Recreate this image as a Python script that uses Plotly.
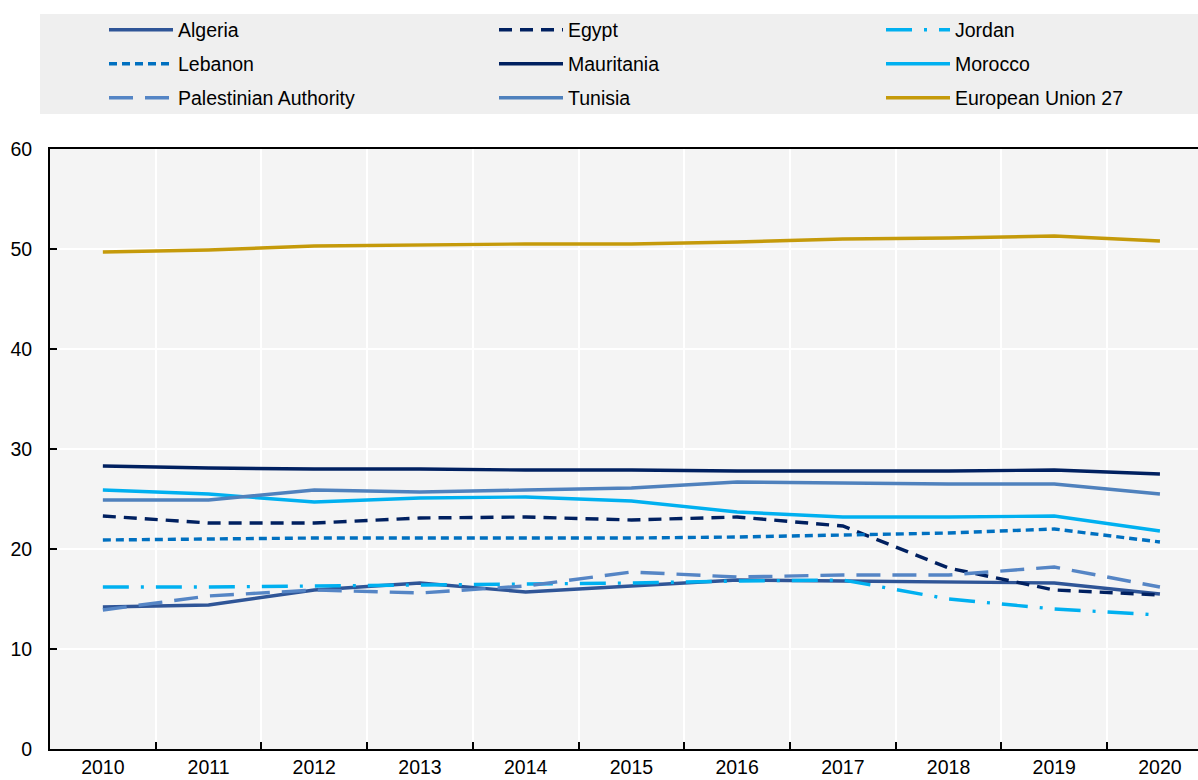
import plotly.graph_objects as go

years = [str(y) for y in range(2010, 2021)]

algeria = [14.2, 14.4, 15.9, 16.6, 15.7, 16.3, 16.9, 16.8, 16.7, 16.6, 15.5]
egypt = [23.3, 22.6, 22.6, 23.1, 23.2, 22.9, 23.2, 22.3, 18.1, 15.9, 15.4]
jordan = [16.2, 16.2, 16.3, 16.4, 16.5, 16.6, 16.8, 16.9, 15.0, 14.0, 13.4]
lebanon = [20.9, 21.0, 21.1, 21.1, 21.1, 21.1, 21.2, 21.4, 21.6, 22.0, 20.7]
mauritania = [28.3, 28.1, 28.0, 28.0, 27.9, 27.9, 27.8, 27.8, 27.8, 27.9, 27.5]
morocco = [25.9, 25.5, 24.7, 25.1, 25.2, 24.8, 23.7, 23.2, 23.2, 23.3, 21.8]
palestine = [13.9, 15.3, 15.9, 15.6, 16.3, 17.7, 17.2, 17.4, 17.4, 18.2, 16.2]
tunisia = [24.9, 24.9, 25.9, 25.7, 25.9, 26.1, 26.7, 26.6, 26.5, 26.5, 25.5]
eu27 = [49.7, 49.9, 50.3, 50.4, 50.5, 50.5, 50.7, 51.0, 51.1, 51.3, 50.8]

series = [
    ("Algeria", algeria, "#2F5597", "solid"),
    ("Egypt", egypt, "#002060", "13px,8px"),
    ("Jordan", jordan, "#00B0F0", "26px,12px,3px,12px"),
    ("Lebanon", lebanon, "#0070C0", "8px,5px"),
    ("Mauritania", mauritania, "#002060", "solid"),
    ("Morocco", morocco, "#00B0F0", "solid"),
    ("Palestinian Authority", palestine, "#5585C5", "24px,12px"),
    ("Tunisia", tunisia, "#4F81BD", "solid"),
    ("European Union 27", eu27, "#C59A0A", "solid"),
]

FONT = "Liberation Sans, Arial, sans-serif"
FS = 19.5

W, H = 1198, 780
ML, MT, MB = 50, 149, 31
PW, PH = W - ML, H - MT - MB
BOTTOM = MT + PH

col_x = [110, 500, 887]
row_y = [30, 64, 98]

fig = go.Figure()
layout_legends = {}
for i, (name, vals, color, dash) in enumerate(series):
    key = "legend" if i == 0 else f"legend{i + 1}"
    fig.add_trace(go.Scatter(
        x=years, y=vals, name=name, mode="lines", legend=key,
        line=dict(color=color, width=3.4, dash=dash),
    ))
    r, c = divmod(i, 3)
    layout_legends[key] = dict(
        orientation="v",
        x=(col_x[c] - 6 - ML) / PW, xanchor="left",
        y=(BOTTOM - row_y[r]) / PH, yanchor="middle",
        bgcolor="rgba(0,0,0,0)",
        itemwidth=64,
        font=dict(family=FONT, size=FS, color="#000000"),
    )

fig.update_layout(
    width=W, height=H,
    margin=dict(l=ML, r=0, t=MT, b=MB, pad=0, autoexpand=False),
    paper_bgcolor="white",
    plot_bgcolor="#F4F4F4",
    font=dict(family=FONT, size=FS, color="#000000"),
    showlegend=True,
    shapes=[dict(
        type="rect", xref="paper", yref="paper",
        x0=(40 - ML) / PW, x1=1.0,
        y0=(BOTTOM - 114) / PH, y1=(BOTTOM - 14) / PH,
        fillcolor="#EFEFEF", line=dict(width=0), layer="below",
    )],
    **layout_legends,
)

fig.update_xaxes(
    type="category",
    range=[-0.5, 10.36],
    automargin=False,
    tickson="boundaries",
    ticks="inside", ticklen=7, tickcolor="#000000", tickwidth=1.5,
    showgrid=True, gridcolor="#FFFFFF", gridwidth=2,
    showline=True, linecolor="#000000", linewidth=2, mirror=True,
    tickfont=dict(family=FONT, size=FS, color="#000000"),
    fixedrange=True,
)
fig.update_yaxes(
    range=[0, 60],
    automargin=False,
    tickvals=[0, 10, 20, 30, 40, 50, 60],
    ticks="inside", ticklen=7, tickcolor="#000000", tickwidth=1.5,
    showgrid=True, gridcolor="#FFFFFF", gridwidth=2,
    showline=True, linecolor="#000000", linewidth=2,
    zeroline=False,
    ticklabelstandoff=12,
    tickfont=dict(family=FONT, size=FS, color="#000000"),
    fixedrange=True,
)

fig.write_html(
    "out.html",
    config={"displayModeBar": False},
    post_script="document.body.style.margin='0';document.documentElement.style.overflow='hidden';",
)
